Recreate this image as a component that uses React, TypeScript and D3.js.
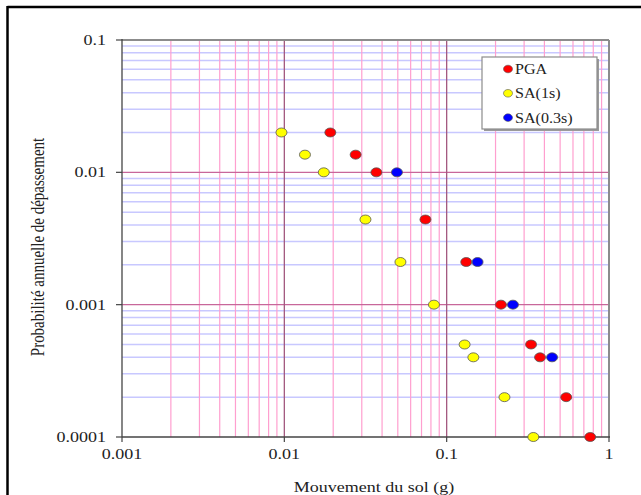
import React from "react";
import * as d3 from "d3";

const pgaX = [0.0192, 0.0275, 0.0369, 0.074, 0.132, 0.216, 0.331, 0.376, 0.545, 0.766];
const pgaY = [0.02, 0.0136, 0.01, 0.0044, 0.0021, 0.001, 0.0005, 0.0004, 0.0002, 0.0001];
const sa1X = [0.0096, 0.0134, 0.0175, 0.0316, 0.0519, 0.0835, 0.129, 0.146, 0.227, 0.342];
const sa1Y = [0.02, 0.0136, 0.01, 0.0044, 0.0021, 0.001, 0.0005, 0.0004, 0.0002, 0.0001];
const sa03X = [0.0494, 0.155, 0.256, 0.446];
const sa03Y = [0.01, 0.0021, 0.001, 0.0004];

const xTicks = [0.001, 0.01, 0.1, 1];
const xTickLabels = ["0.001", "0.01", "0.1", "1"];
const yTicks = [0.1, 0.01, 0.001, 0.0001];
const yTickLabels = ["0.1", "0.01", "0.001", "0.0001"];

const seriesNames = ["PGA", "SA(1s)", "SA(0.3s)"];
const seriesColors = ["#ff0000", "#ffff00", "#0000ff"];
const xTitle = "Mouvement du sol (g)";
const yTitle = "Probabilité annuelle de dépassement";

const FONT = "'Liberation Serif', 'Times New Roman', serif";
const SX = 1.2;

export default function App() {
  const L = 122, R = 609, T = 40, B = 437;
  const x = d3.scaleLog().domain([0.001, 1]).range([L, R]);
  const y = d3.scaleLog().domain([0.0001, 0.1]).range([B, T]);

  const minorX: number[] = [];
  const minorY: number[] = [];
  for (let e = -3; e < 0; e++) {
    for (let m = 2; m <= 9; m++) minorX.push(m * Math.pow(10, e));
  }
  for (let e = -4; e < -1; e++) {
    for (let m = 2; m <= 9; m++) minorY.push(m * Math.pow(10, e));
  }

  const series = [
    { xs: pgaX, ys: pgaY, color: seriesColors[0] },
    { xs: sa1X, ys: sa1Y, color: seriesColors[1] },
    { xs: sa03X, ys: sa03Y, color: seriesColors[2] },
  ];

  return (
    <svg
      width={641}
      height={495}
      style={{ position: "fixed", left: 0, top: 0, background: "#fff" }}
      fontFamily={FONT}
    >
      <rect x={0} y={0} width={641} height={495} fill="#fff" />
      {/* outer border */}
      <line x1={7.5} y1={7} x2={641} y2={7} stroke="#000" strokeWidth={2.5} />
      <line x1={7.5} y1={6} x2={7.5} y2={495} stroke="#000" strokeWidth={2.5} />

      {/* horizontal minor grid */}
      {minorY.map((v, i) => (
        <line key={"hy" + i} x1={L} x2={R} y1={y(v)} y2={y(v)} stroke="#c8c8ff" strokeWidth={1.5} />
      ))}
      {/* vertical minor grid */}
      {minorX.map((v, i) => (
        <line key={"vx" + i} x1={x(v)} x2={x(v)} y1={T} y2={B} stroke="#ff9fcf" strokeWidth={1.2} />
      ))}
      {/* horizontal major grid */}
      {yTicks.slice(1, 3).map((v, i) => (
        <line key={"hY" + i} x1={L} x2={R} y1={y(v)} y2={y(v)} stroke="#c8679a" strokeWidth={1.3} />
      ))}
      {/* vertical major grid */}
      {xTicks.slice(1, 3).map((v, i) => (
        <line key={"vX" + i} x1={x(v)} x2={x(v)} y1={T} y2={B} stroke="#a3587f" strokeWidth={1.3} />
      ))}

      {/* frame */}
      <line x1={L} x2={R} y1={T} y2={T} stroke="#8c8c8c" strokeWidth={2} />
      <line x1={R} x2={R} y1={T} y2={B} stroke="#8c8c8c" strokeWidth={2} />
      <line x1={L} x2={R + 1} y1={B} y2={B} stroke="#444" strokeWidth={1.3} />
      <line x1={L} x2={L} y1={T - 1} y2={B} stroke="#444" strokeWidth={1.3} />

      {/* ticks */}
      {yTicks.map((v, i) => (
        <g key={"yt" + i}>
          <line x1={L - 6} x2={L} y1={y(v)} y2={y(v)} stroke="#444" strokeWidth={1.2} />
          <g transform={`translate(106,${y(v) + 5}) scale(${SX},1)`}>
            <text textAnchor="end" fontSize={15} fill="#222">{yTickLabels[i]}</text>
          </g>
        </g>
      ))}
      {xTicks.map((v, i) => (
        <g key={"xt" + i}>
          <line x1={x(v)} x2={x(v)} y1={B} y2={B + 5} stroke="#444" strokeWidth={1.2} />
          <g transform={`translate(${x(v)},459) scale(${SX},1)`}>
            <text textAnchor="middle" fontSize={15} fill="#222">{xTickLabels[i]}</text>
          </g>
        </g>
      ))}

      {/* axis titles */}
      <g transform={`translate(374,492) scale(${SX},1)`}>
        <text textAnchor="middle" fontSize={15} fill="#222">{xTitle}</text>
      </g>
      <g transform={`translate(44,247) scale(${SX},1) rotate(-90)`}>
        <text textAnchor="middle" fontSize={15} fill="#222">{yTitle}</text>
      </g>

      {/* points */}
      {series.map((s, si) => (
        <g key={"s" + si}>
          {s.xs.map((xv, i) => (
            <ellipse
              key={i}
              cx={x(xv)}
              cy={y(s.ys[i])}
              rx={5.5}
              ry={4.5}
              fill={s.color}
              stroke="#555"
              strokeWidth={0.8}
            />
          ))}
        </g>
      ))}

      {/* legend */}
      <rect x={484} y={59} width={115} height={72} fill="#9a9a9a" />
      <rect x={482} y={57} width={115} height={72} fill="#fff" stroke="#8c8c8c" strokeWidth={1.2} />
      {seriesNames.map((n, i) => {
        const cy = 69 + i * 24.3;
        return (
          <g key={"lg" + i}>
            <ellipse cx={508} cy={cy} rx={4.5} ry={3.8} fill={seriesColors[i]} stroke="#555" strokeWidth={0.6} />
            <g transform={`translate(515,${cy + 5}) scale(1.15,1)`}>
              <text fontSize={14} fill="#222">{n}</text>
            </g>
          </g>
        );
      })}
    </svg>
  );
}
